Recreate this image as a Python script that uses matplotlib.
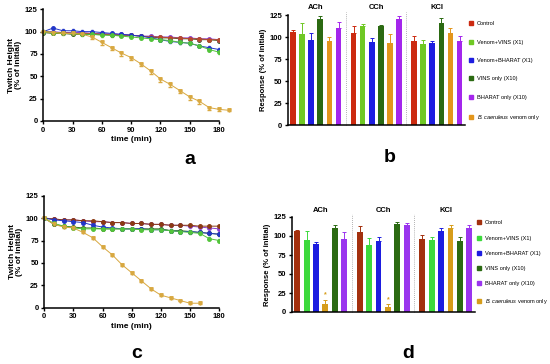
import numpy as np
import matplotlib
matplotlib.use("Agg")
import matplotlib.pyplot as plt
from matplotlib.lines import Line2D

plt.rcParams['font.family'] = ['Liberation Sans', 'DejaVu Sans']
plt.rcParams['font.weight'] = 'bold'
plt.rcParams['mathtext.fontset'] = 'custom'
plt.rcParams['mathtext.it'] = 'Liberation Sans:italic:normal'
plt.rcParams['mathtext.rm'] = 'Liberation Sans:normal'

# ---- time course data (panels a and c) ----
time = list(range(0, 190, 10))
time_bc_a = list(range(0, 200, 10))
time_bc_c = list(range(0, 170, 10))

a_control = [100, 99, 99, 98, 98, 98, 97, 97, 96, 96, 95, 94, 94, 93, 93, 92, 92, 91, 91]
a_vins_only = [99, 98, 98, 97, 97, 97, 97, 96, 96, 96, 95, 94, 93, 93, 92, 92, 91, 91, 90]
a_bharat_only = [100, 100, 99, 99, 99, 98, 98, 97, 97, 96, 95, 95, 94, 94, 93, 93, 92, 92, 91]
a_venom_vins = [100, 99, 98, 98, 97, 97, 96, 96, 95, 94, 93, 92, 91, 90, 88, 87, 84, 80, 77]
a_venom_bharat = [100, 104, 101, 101, 100, 100, 99, 98, 97, 96, 95, 93, 91, 89, 88, 87, 84, 82, 80]
a_venom = [100, 99, 98, 98, 97, 94, 88, 82, 76, 71, 64, 56, 47, 41, 34, 27, 22, 15, 13, 12]
a_venom_err = [0, 1, 1, 1, 1, 2, 3, 3, 3, 3, 3, 3, 3, 3, 3, 3, 3, 3, 2, 1]

c_control = [100, 99, 98, 98, 97, 97, 96, 95, 95, 94, 94, 93, 93, 92, 92, 92, 91, 91, 91]
c_bharat_only = [100, 99, 98, 98, 97, 96, 96, 95, 95, 94, 94, 93, 93, 92, 92, 91, 90, 89, 88]
c_vins_only = [100, 93, 91, 90, 89, 89, 88, 88, 88, 88, 88, 88, 88, 86, 86, 85, 84, 83, 82]
c_venom_vins = [100, 94, 91, 89, 88, 88, 88, 88, 88, 88, 87, 87, 87, 86, 85, 84, 83, 77, 75]
c_venom_bharat = [100, 98, 97, 96, 95, 92, 90, 89, 88, 88, 88, 87, 87, 86, 85, 85, 84, 83, 82]
c_venom = [100, 93, 90, 89, 84, 78, 68, 59, 48, 39, 30, 21, 14, 11, 8, 5, 5]
c_venom_err = [0, 1, 1, 1, 1, 1, 1, 1, 1, 1, 1, 1, 1, 1, 1, 1, 1]

# ---- bar data (panels b and d) ----
groups = ['ACh', 'CCh', 'KCl']
series = ['Control', 'Venom+VINS (X1)', 'Venom+BHARAT (X1)', 'VINS only (X10)',
          'BHARAT only (X10)', r'$\it{B.caeruleus}$ venom only']

# bar order in b: Control, Venom+VINS, Venom+BHARAT, VINS only, venom, BHARAT only
b_order = [0, 1, 2, 3, 5, 4]
b_vals = [[106, 103, 97, 120, 95, 110],
          [105, 113, 94, 112, 93, 120],
          [95, 92, 93, 116, 104, 96]]
b_err = [[2, 13, 7, 4, 5, 7],
         [7, 2, 5, 2, 10, 4],
         [6, 5, 3, 6, 6, 5]]

# bar order in d: Control, Venom+VINS, Venom+BHARAT, venom, VINS only, BHARAT only
d_order = [0, 1, 2, 5, 3, 4]
d_vals = [[106, 95, 89, 11, 110, 96],
          [105, 88, 93, 6, 116, 115],
          [96, 95, 107, 111, 94, 110]]
d_err = [[2, 11, 3, 5, 4, 9],
         [8, 9, 6, 4, 2, 2],
         [5, 4, 4, 3, 5, 5]]

col_b = ['#cc2a10', '#6fc824', '#1d1de0', '#2b6a12', '#a426ec', '#e3961c']
col_d = ['#a3300e', '#3cd93c', '#1d1de0', '#2b6a12', '#9a35ee', '#d69d1a']
col_line_a = ['#b84a2a', '#52c43a', '#2236c8', '#3b5e1c', '#8a3fd0', '#d8a840']
col_line_c = ['#8b3a12', '#52c43a', '#2236c8', '#3b6a1c', '#8a3fd0', '#d8a840']

W, H = 550, 364
fig = plt.figure(figsize=(W / 100, H / 100), dpi=100)


def ax_px(x0, x1, ytop, ybot):
    return fig.add_axes([x0 / W, 1 - ybot / H, (x1 - x0) / W, (ybot - ytop) / H])


def style(ax):
    for s in ['top', 'right']:
        ax.spines[s].set_visible(False)
    for s in ['left', 'bottom']:
        ax.spines[s].set_linewidth(1.1)
    ax.tick_params(labelsize=5.5, width=1, length=2.5, pad=1.5)
    ax.set_ylim(0, 125)
    ax.set_yticks([0, 25, 50, 75, 100, 125])


def line_panel(ax, cols, ctrl, vv, vb, vo, bo, ven, tven, ven_err):
    kw = dict(marker='o', ms=2.5, lw=0.7, capsize=1, elinewidth=0.5)
    ax.errorbar(time, vo, yerr=1, color=cols[3], **kw)
    ax.errorbar(time, bo, yerr=1, color=cols[4], **kw)
    ax.errorbar(time, ctrl, yerr=1, color=cols[0], **kw)
    ax.errorbar(time, vb, yerr=1.5, color=cols[2], **kw)
    ax.errorbar(time, vv, yerr=1.5, color=cols[1], **kw)
    eb = ax.errorbar(tven, ven, yerr=[ven_err, [0] * len(ven_err)], color=cols[5],
                     marker='v', ms=2.5, lw=0.7, capsize=1.2, elinewidth=0.6)
    for art in [eb.lines[0]] + list(eb.lines[1]) + list(eb.lines[2]):
        art.set_clip_on(False)
    style(ax)
    ax.set_xlim(0, 180)
    ax.set_xticks([0, 30, 60, 90, 120, 150, 180])
    ax.set_xlabel('time (min)', fontsize=6, fontweight='bold', labelpad=2)
    ax.set_ylabel('Twitch Height\n(% of initial)', fontsize=6, fontweight='bold',
                  labelpad=2, linespacing=1.0)


def bar_panel(ax, vals, errs, order, cols, seps):
    gap = 6.65
    for g, (gv, ge) in enumerate(zip(vals, errs)):
        for i in range(6):
            x = g * gap + i
            c = cols[order[i]]
            ax.bar(x, gv[i], width=0.62, color=c, zorder=2)
            ax.errorbar(x, gv[i], yerr=[[0], [ge[i]]], color=c, capsize=1.3,
                        elinewidth=0.7, capthick=0.7, zorder=3)
        ax.text(g * gap + 2.5, 129, groups[g], ha='center', va='bottom',
                fontsize=5.5, fontweight='bold')
    for s in seps:
        ax.axvline(s, color='#999999', ls=(0, (1, 1.5)), lw=0.6, ymax=1.03,
                   clip_on=False)
    style(ax)
    ax.set_xlim(-0.55, 2 * gap + 5.6)
    ax.set_xticks([])
    ax.set_ylabel('Response (% of initial)', fontsize=5.5, fontweight='bold', labelpad=2)


def legend(cols, anchor, spacing):
    handles = [Line2D([], [], ls='none', marker='s', ms=2.3, color=c) for c in cols]
    fig.legend(handles, series, loc='upper left', bbox_to_anchor=anchor,
               bbox_transform=fig.transFigure, frameon=False,
               prop={'weight': 'normal', 'size': 4.1}, handlelength=0.8,
               handletextpad=0.7, labelspacing=spacing, borderaxespad=0)


ax_a = ax_px(43.3, 219, 9.3, 121)
line_panel(ax_a, col_line_a, a_control, a_venom_vins, a_venom_bharat, a_vins_only,
           a_bharat_only, a_venom, time_bc_a, a_venom_err)

ax_c = ax_px(44.3, 219.1, 195.7, 307.7)
line_panel(ax_c, col_line_c, c_control, c_venom_vins, c_venom_bharat, c_vins_only,
           c_bharat_only, c_venom, time_bc_c, c_venom_err)

ax_b = ax_px(288, 465, 15, 125)
bar_panel(ax_b, b_vals, b_err, b_order, col_b, [5.8, 12.45])
legend(col_b, (466 / W, 1 - 19 / H), 2.35)

ax_d = ax_px(292, 475, 217, 312)
bar_panel(ax_d, d_vals, d_err, d_order, col_d, [5.8, 12.45])
for g in range(2):
    x = g * 6.65 + 3
    ax_d.text(x, d_vals[g][3] + d_err[g][3] + 2, '*', ha='center', va='bottom',
              fontsize=5, color=col_d[5])
legend(col_d, (474 / W, 1 - 218 / H), 1.8)

for lab, x, y in [('a', 190, 160), ('b', 390, 157), ('c', 137, 353), ('d', 408, 353)]:
    fig.text(x / W, 1 - y / H, lab, fontsize=14, fontweight='bold', ha='center', va='center')

fig.savefig('out.png', dpi=100)
